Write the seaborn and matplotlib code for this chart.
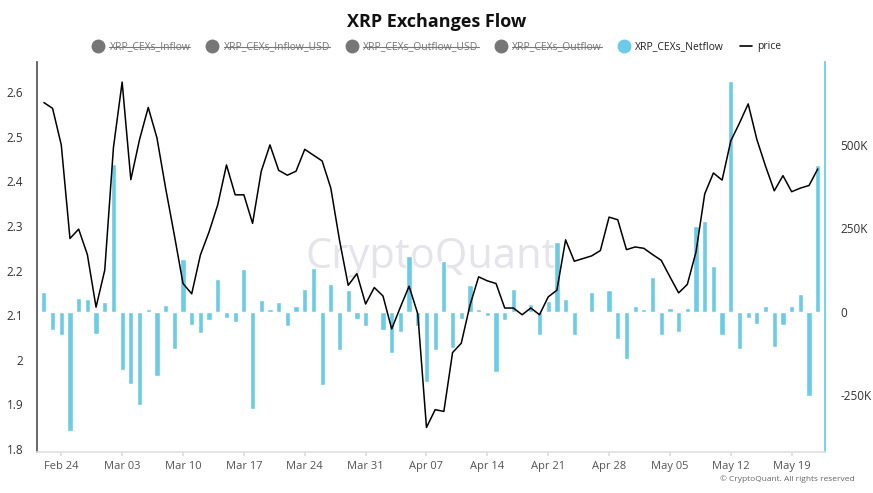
import numpy as np
import pandas as pd
import matplotlib
matplotlib.use("Agg")
import matplotlib.pyplot as plt
from matplotlib.lines import Line2D
import seaborn as sns

sns.set_theme(style="white", font="Open Sans")

dates = pd.date_range("2025-02-22", "2025-05-22", freq="D")

# netflow in thousands
netflow_k = [60, -53, -70, -355, 40, 37, -65, 30, 443, -175,
             -215, -278, 8, -193, 20, -110, 157, -40, -63, -25,
             99, -17, -30, 128, -290, 35, 8, 30, -43, 17,
             68, 132, -220, 84, -113, 65, -20, -43, 3, -55,
             -122, -60, 168, -43, -210, -115, 152, -108, -22, 80,
             10, -13, -180, -23, 68, 0, 24, -70, 32, 208,
             38, -68, 0, 58, -2, 65, -80, -140, 17, 8,
             105, -70, 12, -60, 12, 257, 273, 138, -68, 689,
             -110, -17, -35, 18, -105, -40, 18, 53, -252, 438]

price = [2.577, 2.564, 2.482, 2.272, 2.293, 2.236, 2.118, 2.201, 2.476, 2.623,
         2.404, 2.494, 2.566, 2.498, 2.385, 2.280, 2.171, 2.148, 2.235, 2.287,
         2.348, 2.437, 2.370, 2.370, 2.306, 2.423, 2.482, 2.425, 2.414, 2.423,
         2.472, 2.459, 2.446, 2.385, 2.268, 2.167, 2.193, 2.125, 2.162, 2.143,
         2.069, 2.118, 2.165, 2.103, 1.848, 1.888, 1.884, 2.016, 2.037, 2.122,
         2.186, 2.177, 2.171, 2.116, 2.116, 2.101, 2.116, 2.101, 2.141, 2.156,
         2.269, 2.221, 2.227, 2.233, 2.245, 2.320, 2.314, 2.247, 2.253, 2.250,
         2.236, 2.223, 2.186, 2.150, 2.169, 2.242, 2.372, 2.419, 2.403, 2.491,
         2.531, 2.574, 2.494, 2.434, 2.379, 2.413, 2.377, 2.385, 2.391, 2.428]

df = pd.DataFrame({"date": dates, "netflow": np.array(netflow_k) * 1000, "price": price})

bar_color = "#6ccbe6"

fig = plt.figure(figsize=(8.73, 4.93), dpi=100)
ax = fig.add_axes([37 / 873, 1 - 452 / 493, 788 / 873, 390 / 493])
ax.bar(df["date"], df["netflow"], width=0.6, color=bar_color, zorder=1)
ax.set_ylim(-419000, 747000)
ax.set_yticks([-250000, 0, 250000, 500000])
ax.set_yticklabels(["-250K", "0", "250K", "500K"])

ax2 = ax.twinx()
sns.lineplot(data=df, x="date", y="price", color="black", linewidth=1.1, ax=ax2)
ax2.set_ylim(1.793, 2.668)
ax2.set_yticks([1.8, 1.9, 2.0, 2.1, 2.2, 2.3, 2.4, 2.5, 2.6])
ax2.set_yticklabels(["1.8", "1.9", "2", "2.1", "2.2", "2.3", "2.4", "2.5", "2.6"])
ax2.set_ylabel("")
ax2.set_xlabel("")

ax.tick_params(axis="y", left=False, right=False, labelleft=False, labelright=True,
               labelsize=8.5, colors="#333333", pad=5)
ax2.tick_params(axis="y", left=False, right=False, labelleft=True, labelright=False,
                labelsize=8.5, colors="#333333", pad=4)

ax.set_xlim(pd.Timestamp("2025-02-21 05:00"), pd.Timestamp("2025-05-22 20:00"))
ticks = pd.to_datetime(["2025-02-24", "2025-03-03", "2025-03-10", "2025-03-17", "2025-03-24",
                        "2025-03-31", "2025-04-07", "2025-04-14", "2025-04-21", "2025-04-28",
                        "2025-05-05", "2025-05-12", "2025-05-19"])
ax.set_xticks(ticks)
ax.set_xticklabels([t.strftime("%b %d") for t in ticks])
ax.tick_params(axis="x", labelsize=8, colors="#555555", length=3, color="#dddddd", bottom=True)

for a in (ax, ax2):
    for s in a.spines.values():
        s.set_visible(False)
ax2.spines["left"].set_visible(True)
ax2.spines["left"].set_color("#555555")
ax2.spines["right"].set_visible(True)
ax2.spines["right"].set_color(bar_color)
ax2.spines["bottom"].set_visible(True)
ax2.spines["bottom"].set_color("#e0e0e0")

ax.text(0.5, 0.5, "CryptoQuant", transform=ax.transAxes, ha="center", va="center",
        fontsize=30, color="#e4e4ea", zorder=0)

fig.text(0.5, 1 - 22 / 493, "XRP Exchanges Flow", ha="center", va="center",
         fontsize=13, fontweight="bold", color="#111111")
fig.text(855 / 873, 1 - 479 / 493, "© CryptoQuant. All rights reserved", ha="right",
         va="center", fontsize=6, color="#666666")

labels = ["XRP_CEXs_Inflow", "XRP_CEXs_Inflow_USD", "XRP_CEXs_Outflow_USD",
          "XRP_CEXs_Outflow", "XRP_CEXs_Netflow", "price"]
handles = [Line2D([], [], marker="o", linestyle="", markersize=9, color="#777777") for _ in range(4)]
handles.append(Line2D([], [], marker="o", linestyle="", markersize=9, color=bar_color))
handles.append(Line2D([], [], color="black", linewidth=1.2))
leg = fig.legend(handles, labels, loc="center", bbox_to_anchor=(0.5, 1 - 47 / 493), ncol=6,
                 frameon=False, fontsize=7.5, handlelength=1.2, handletextpad=0.5, columnspacing=1.5)
for i, t in enumerate(leg.get_texts()):
    t.set_color("#777777" if i < 4 else "#222222")

fig.canvas.draw()
inv = fig.transFigure.inverted()
for t in leg.get_texts()[:4]:
    bb = t.get_window_extent()
    (x0, y0), (x1, y1) = inv.transform([[bb.x0, bb.y0], [bb.x1, bb.y1]])
    ym = (y0 + y1) / 2
    fig.add_artist(Line2D([x0, x1], [ym, ym], color="#777777", linewidth=0.8))

fig.savefig("out.png", dpi=100)
